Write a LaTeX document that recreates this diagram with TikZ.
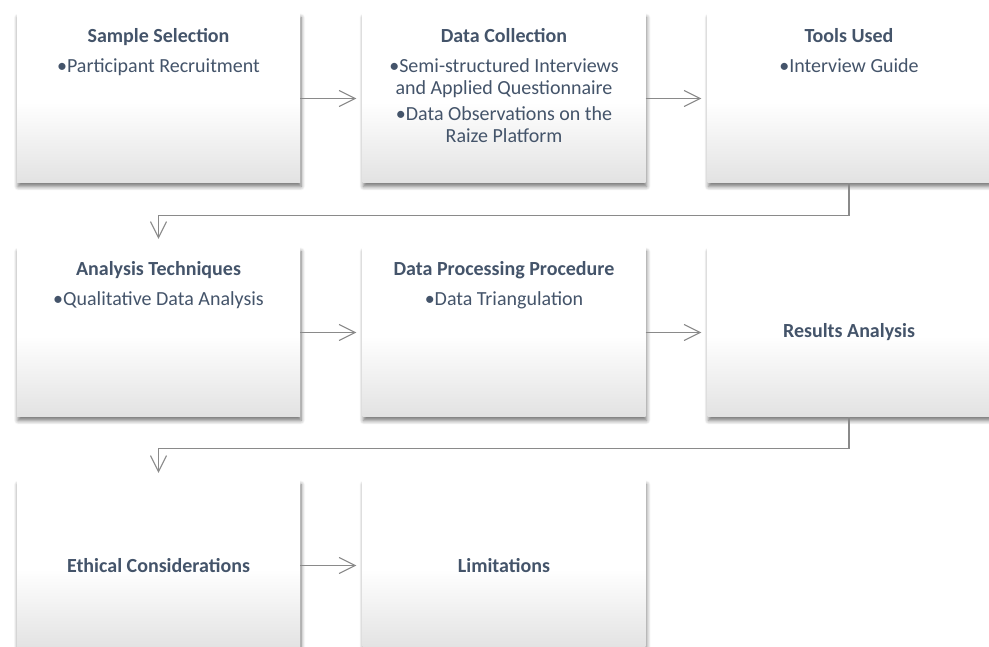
\documentclass[tikz,border=0pt]{standalone}
\usepackage{fontspec}
\setmainfont{Carlito}
\usetikzlibrary{shadows.blur,arrows.meta}
\definecolor{txt}{RGB}{68,84,106}
\definecolor{boxgray}{RGB}{226,226,226}
\definecolor{conncol}{RGB}{138,138,138}
\pgfdeclareverticalshading{boxshade}{100bp}{color(0bp)=(boxgray); color(25bp)=(boxgray); color(49bp)=(white); color(100bp)=(white)}
\begin{document}
\begin{tikzpicture}[x=1pt,y=1pt,
  box/.style={minimum width=283pt, minimum height=169pt, inner sep=0pt,
    shading=boxshade,
    blur shadow={shadow xshift=1pt, shadow yshift=-3.5pt, shadow blur radius=4pt, shadow blur steps=6, shadow opacity=55},
    font=\fontsize{20}{22}\selectfont\bfseries, text=txt},
  boxtext/.style={anchor=north, inner sep=0pt, align=center, text=txt,
    font=\fontsize{20}{22}\selectfont},
  connector/.style={draw=conncol, line width=1.1pt, -{Straight Barb[length=16pt,width=16pt]}}]
\useasboundingbox (0,0) rectangle (989,647);
\clip (0,0) rectangle (989,647);
\node[box] (b1) at (158.5,548.5) {};
\node[box] (b2) at (504,548.5) {};
\node[box] (b3) at (849,548.5) {};
\node[box] (b4) at (158.5,314.5) {};
\node[box] (b5) at (504,314.5) {};
\node[box] (b6) at (849,314.5) {Results Analysis};
\node[box] (b7) at (158.5,81.5) {Ethical Considerations};
\node[box] (b8) at (504,81.5) {Limitations};
\node[boxtext] (t1) at ([yshift=-12.5pt]b1.north) {\rule{0pt}{16pt}\textbf{Sample Selection}\\[8pt]•Participant Recruitment};
\node[boxtext] (t2) at ([yshift=-12.5pt]b2.north) {\rule{0pt}{16pt}\textbf{Data Collection}\\[8pt]•Semi-structured Interviews\\and Applied Questionnaire\\[4pt]•Data Observations on the\\Raize Platform};
\node[boxtext] (t3) at ([yshift=-12.5pt]b3.north) {\rule{0pt}{16pt}\textbf{Tools Used}\\[8pt]•Interview Guide};
\node[boxtext] (t4) at ([yshift=-11.5pt]b4.north) {\rule{0pt}{16pt}\textbf{Analysis Techniques}\\[8pt]•Qualitative Data Analysis};
\node[boxtext] (t5) at ([yshift=-11.5pt]b5.north) {\rule{0pt}{16pt}\textbf{Data Processing Procedure}\\[8pt]•Data Triangulation};
\draw[connector, shorten >=6pt] (b1.east) -- (b2.west);
\draw[connector, shorten >=6pt] (b2.east) -- (b3.west);
\draw[connector, shorten >=9pt] (b3.south) -- ++(0,-32) -| (b4.north);
\draw[connector, shorten >=6pt] (b4.east) -- (b5.west);
\draw[connector, shorten >=6pt] (b5.east) -- (b6.west);
\draw[connector, shorten >=8pt] (b6.south) -- ++(0,-31) -| (b7.north);
\draw[connector, shorten >=6pt] (b7.east) -- (b8.west);
\end{tikzpicture}
\end{document}
